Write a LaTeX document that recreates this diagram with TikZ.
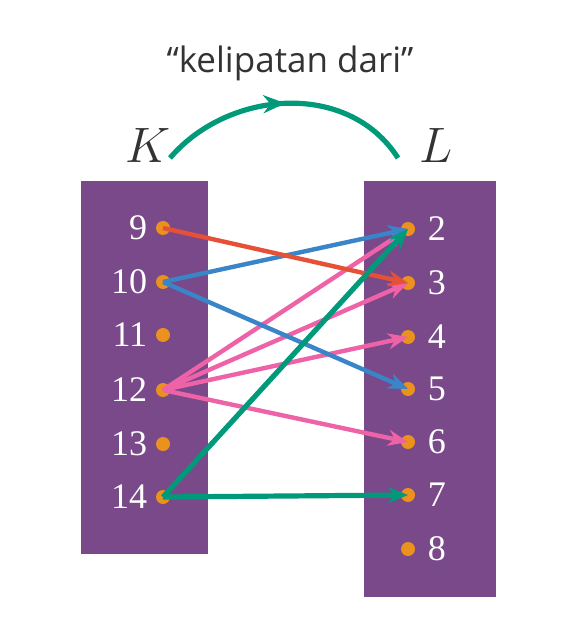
\documentclass[tikz,border=0pt]{standalone}
\usepackage{fontspec}
\newfontfamily\titlefont{Open Sans}
\newfontfamily\numfont{Liberation Serif}
\usetikzlibrary{arrows.meta,decorations.markings}

\definecolor{setpurple}{RGB}{121,73,137}
\definecolor{dotorange}{RGB}{234,145,30}
\definecolor{textgray}{RGB}{51,51,51}
\definecolor{relred}{RGB}{230,80,55}
\definecolor{relblue}{RGB}{58,133,200}
\definecolor{relpink}{RGB}{238,98,168}
\definecolor{relgreen}{RGB}{0,154,122}

\tikzset{
  setbox/.style={fill=setpurple, draw=none},
  elem/.style={circle, fill=dotorange, inner sep=0pt, minimum size=7pt},
  num/.style={text=white, font=\numfont\fontsize{18}{21}\selectfont, inner sep=1pt},
  rel/.style={line width=2.2pt, -{Stealth[length=10pt,width=8pt]}},
}

\begin{document}
\begin{tikzpicture}[x=0.5pt, y=-0.5pt]
\useasboundingbox (0,0) rectangle (580,640);

% Title and set names
\node[text=textgray, font=\titlefont\fontsize{17.5}{21}\selectfont] (title) at (290,63) {“kelipatan dari”};
\node[text=textgray, font=\fontsize{26}{30}\selectfont] (K) at (148,146) {$K$};
\node[text=textgray, font=\fontsize{26}{30}\selectfont] (L) at (436,146) {$L$};

% The arc between K and L
\coordinate (arcstart) at (170,158);
\coordinate (arcend) at (398,158);
\draw[relgreen, line width=2.6pt,
  postaction={decorate, decoration={markings,
    mark=at position 0.5 with {\arrow{Stealth[length=11pt,width=9pt]}}}}]
  (arcstart) .. controls (228,90) and (348,80) .. (arcend);

% The two sets
\fill[setbox] (81,181) rectangle (208,554);
\fill[setbox] (364,181) rectangle (496,597);

% Elements of K
\foreach \n/\y in {9/228, 10/282, 11/335, 12/390, 13/444, 14/497}
  \node[elem, label={[num, label distance=3pt]left:\n}] (k\n) at (163,\y) {};

% Elements of L
\foreach \n/\y in {2/229, 3/283, 4/337, 5/389, 6/442, 7/495, 8/549}
  \node[elem, label={[num, label distance=5pt]right:\n}] (l\n) at (408,\y) {};

% The relation
\draw[rel, relpink] (k12.center) -- (l2.center);
\draw[rel, relpink] (k12.center) -- (l3.center);
\draw[rel, relpink] (k12.center) -- (l4.center);
\draw[rel, relpink] (k12.center) -- (l6.center);
\draw[rel, relblue] (k10.center) -- (l2.center);
\draw[rel, relblue] (k10.center) -- (l5.center);
\draw[rel, relred] (k9.center) -- (l3.center);
\draw[rel, relgreen, line width=2.6pt] (k14.center) -- (l2.center);
\draw[rel, relgreen, line width=2.6pt] (k14.center) -- (l7.center);
\end{tikzpicture}
\end{document}
